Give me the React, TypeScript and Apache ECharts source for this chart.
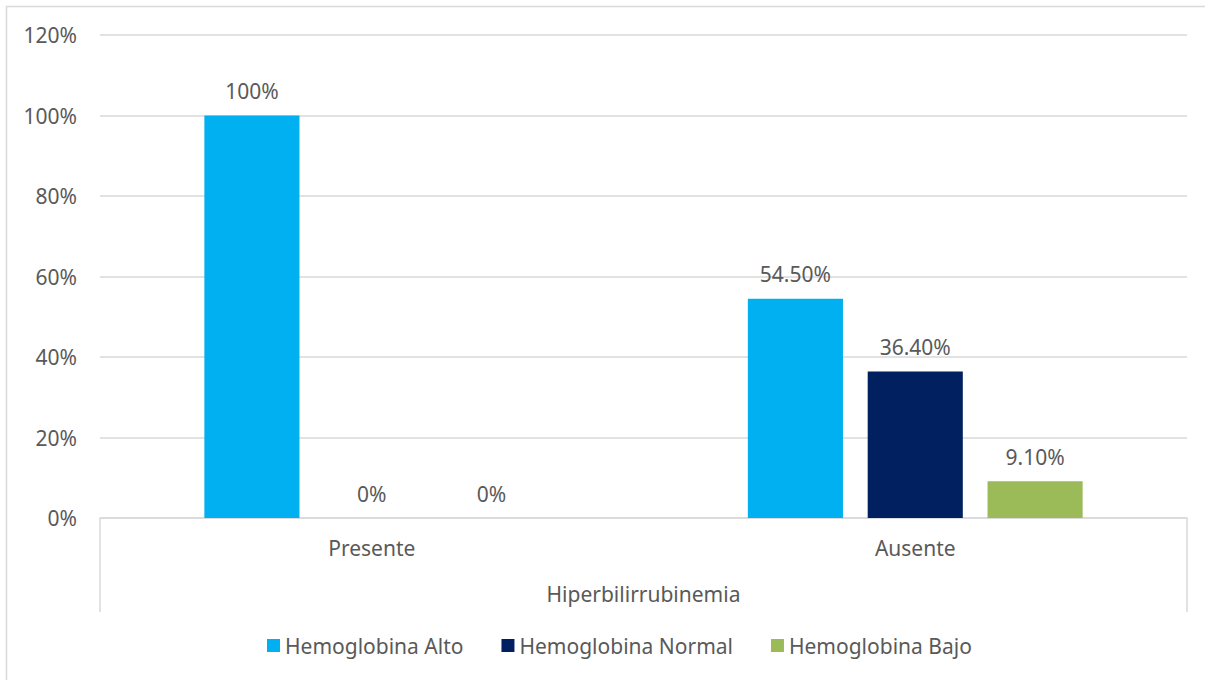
import React, { useEffect, useRef } from "react";
import * as echarts from "echarts";

const categories = ["Presente", "Ausente"];
const seriesNames = ["Hemoglobina Alto", "Hemoglobina Normal", "Hemoglobina Bajo"];
const alto = [100, 54.5];
const normal = [0, 36.4];
const bajo = [0, 9.1];
const colors = ["#00B0F0", "#002060", "#9BBB59"];
const axisTitle = "Hiperbilirrubinemia";

const FONT = "'Noto Sans', sans-serif";
const TXT = "#595959";
const LINE = "#d9d9d9";
const FS = 21;

const fmt = (v: number) => (Number.isInteger(v) ? `${v}%` : `${v.toFixed(2)}%`);

export default function App() {
  const ref = useRef<HTMLDivElement>(null);
  useEffect(() => {
    document.body.style.margin = "0";
    const chart = echarts.init(ref.current!, null, { renderer: "svg" });
    const gridLeft = 100;
    const gridRight = 18;
    const gridTop = 35;
    const gridBottom = 162;
    const W = 1205;
    const H = 680;
    const axisY = H - gridBottom;
    const data = [alto, normal, bajo];
    chart.setOption({
      animation: false,
      textStyle: { fontFamily: FONT },
      grid: { left: gridLeft, right: gridRight, top: gridTop, bottom: gridBottom },
      legend: {
        bottom: 19,
        left: 262,
        icon: "rect",
        itemWidth: 13,
        itemHeight: 13,
        itemGap: 38,
        textStyle: { fontSize: FS, color: TXT, fontFamily: FONT },
        data: seriesNames,
      },
      xAxis: {
        type: "category",
        data: categories,
        axisLine: { show: true, lineStyle: { color: LINE, width: 1.5 } },
        axisTick: { show: false },
        axisLabel: { fontSize: FS, color: TXT, margin: 19, fontFamily: FONT },
        name: axisTitle,
        nameLocation: "middle",
        nameGap: 65,
        nameTextStyle: { fontSize: FS, color: TXT, fontFamily: FONT },
      },
      yAxis: {
        type: "value",
        min: 0,
        max: 120,
        interval: 20,
        axisLine: { show: false },
        axisTick: { show: false },
        axisLabel: { formatter: "{value}%", fontSize: FS, color: TXT, margin: 23, fontFamily: FONT },
        splitLine: { lineStyle: { color: LINE, width: 1.5 } },
      },
      series: seriesNames.map((name, i) => ({
        name,
        type: "bar",
        data: data[i],
        itemStyle: { color: colors[i] },
        barGap: "26%",
        barCategoryGap: "38.4%",
        label: {
          show: true,
          position: "top",
          distance: 14,
          fontSize: FS,
          color: TXT,
          fontFamily: FONT,
          formatter: (p: any) => fmt(p.value),
        },
      })),
      graphic: [
        {
          type: "rect",
          shape: { x: 6.5, y: 6.5, width: W + 20, height: H + 20 },
          style: { fill: "none", stroke: LINE, lineWidth: 1.5 },
          silent: true,
        },
        {
          type: "line",
          shape: { x1: gridLeft, y1: axisY, x2: gridLeft, y2: axisY + 94 },
          style: { stroke: LINE, lineWidth: 1.5 },
          silent: true,
        },
        {
          type: "line",
          shape: { x1: W - gridRight, y1: axisY, x2: W - gridRight, y2: axisY + 94 },
          style: { stroke: LINE, lineWidth: 1.5 },
          silent: true,
        },
      ],
    });
    return () => chart.dispose();
  }, []);
  return <div ref={ref} style={{ width: 1205, height: 680 }} />;
}
